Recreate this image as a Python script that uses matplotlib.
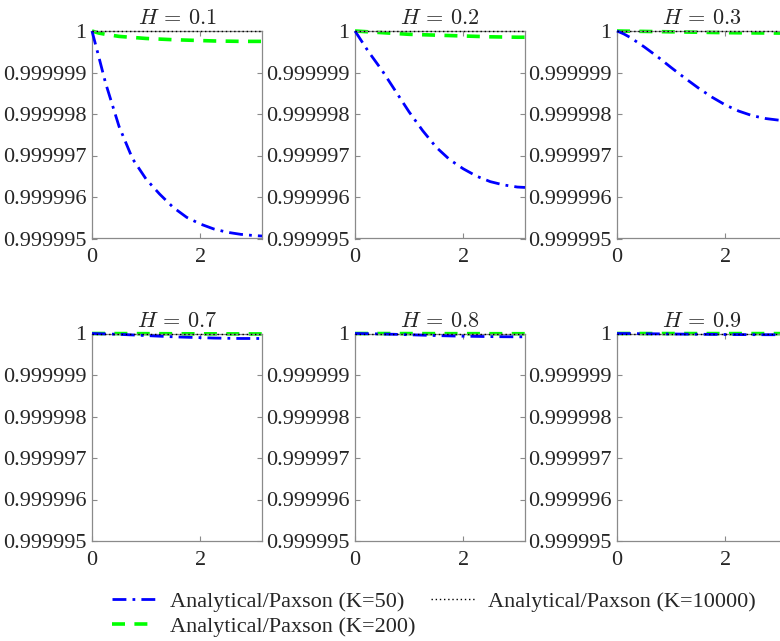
import matplotlib
matplotlib.use("Agg")
import matplotlib.pyplot as plt
import numpy as np

plt.rcParams['font.family'] = ['Liberation Serif', 'DejaVu Serif']
plt.rcParams['mathtext.fontset'] = 'cm'

# ---- data ----
x = [0, 0.125, 0.25, 0.5, 0.75, 1.0, 1.25, 1.5, 1.75, 2.0, 2.25, 2.5, 2.75, 3.0, 3.1416]
titles = ['$H\\,=\\,0.1$', '$H\\,=\\,0.2$', '$H\\,=\\,0.3$', '$H\\,=\\,0.7$', '$H\\,=\\,0.8$', '$H\\,=\\,0.9$']

# deviations from 1 in units of 1e-6
k50_dev = [
    [0, 0.62, 1.25, 2.30, 3.08, 3.57, 3.93, 4.25, 4.49, 4.65, 4.77, 4.85, 4.90, 4.93, 4.94],
    [0, 0.25, 0.50, 0.95, 1.45, 1.95, 2.40, 2.80, 3.10, 3.32, 3.50, 3.63, 3.71, 3.76, 3.77],
    [0, 0.07, 0.16, 0.38, 0.62, 0.88, 1.13, 1.37, 1.59, 1.78, 1.93, 2.04, 2.11, 2.15, 2.16],
    [0, 0.005, 0.01, 0.02, 0.035, 0.05, 0.065, 0.08, 0.09, 0.10, 0.11, 0.115, 0.12, 0.12, 0.12],
    [0, 0.002, 0.005, 0.012, 0.02, 0.03, 0.04, 0.05, 0.058, 0.065, 0.07, 0.075, 0.078, 0.08, 0.08],
    [0, 0.001, 0.002, 0.005, 0.008, 0.012, 0.015, 0.018, 0.021, 0.024, 0.026, 0.028, 0.029, 0.03, 0.03],
]
k200_dev = [
    [0, 0.05, 0.08, 0.13, 0.155, 0.18, 0.195, 0.21, 0.22, 0.23, 0.24, 0.245, 0.25, 0.25, 0.25],
    [0, 0.01, 0.02, 0.04, 0.06, 0.08, 0.09, 0.10, 0.11, 0.12, 0.13, 0.14, 0.145, 0.15, 0.15],
    [0, 0.003, 0.005, 0.01, 0.015, 0.02, 0.025, 0.03, 0.035, 0.04, 0.043, 0.046, 0.048, 0.05, 0.05],
    [0, 0, 0.001, 0.002, 0.003, 0.004, 0.005, 0.006, 0.007, 0.008, 0.008, 0.009, 0.009, 0.01, 0.01],
    [0, 0, 0.001, 0.001, 0.002, 0.002, 0.003, 0.003, 0.004, 0.004, 0.004, 0.005, 0.005, 0.005, 0.005],
    [0, 0, 0, 0.001, 0.001, 0.001, 0.001, 0.002, 0.002, 0.002, 0.002, 0.002, 0.002, 0.002, 0.002],
]
k10000_dev = [[0] * 15 for _ in range(6)]

yticks = [0.999995, 0.999996, 0.999997, 0.999998, 0.999999, 1.0]
ytick_labels = ['0.999995', '0.999996', '0.999997', '0.999998', '0.999999', '1']
xticks = [0, 2]
xtick_labels = ['0', '2']
labels = ['Analytical/Paxson (K=50)', 'Analytical/Paxson (K=200)', 'Analytical/Paxson (K=10000)']

# ---- figure ----
W, H = 780, 641
fig = plt.figure(figsize=(W / 100, H / 100), dpi=100)

col_left = [92, 355, 617]
row_bottom = [238.5, 541]
aw, ah = 170, 207.5

spine_c = '#8a8a8a'
text_c = '#262626'

handles = []
for i in range(6):
    r, c = divmod(i, 3)
    ax = fig.add_axes([col_left[c] / W, 1 - row_bottom[r] / H, aw / W, ah / H])
    y50 = [1 - d * 1e-6 for d in k50_dev[i]]
    y200 = [1 - d * 1e-6 for d in k200_dev[i]]
    y1e4 = [1 - d * 1e-6 for d in k10000_dev[i]]
    l1, = ax.plot(x, y50, color='#0000ff', lw=2.0, dashes=(5, 2.2, 1, 2.2), clip_on=False, zorder=3)
    l2, = ax.plot(x, y200, color='#00ff00', lw=2.6, dashes=(3.6, 2.6), clip_on=False, zorder=2)
    l3, = ax.plot(x, y1e4, color='black', lw=1.0, dashes=(1, 2), clip_on=False, zorder=4)
    if i == 0:
        handles = [l1, l2, l3]
    ax.set_xlim(0, np.pi)
    ax.set_ylim(0.999995, 1.0)
    ax.set_yticks(yticks)
    ax.set_yticklabels(ytick_labels)
    ax.set_xticks(xticks)
    ax.set_xticklabels(xtick_labels)
    ax.tick_params(direction='in', length=3.5, width=0.8, colors=spine_c,
                   labelcolor=text_c, labelsize=16, top=True, right=True)
    ax.tick_params(axis='y', pad=4)
    ax.tick_params(axis='x', pad=7)
    for s in ax.spines.values():
        s.set_color(spine_c)
        s.set_linewidth(0.9)
    ax.set_title(titles[i], fontsize=16, color=text_c, pad=5)

leg = fig.legend(handles, labels, ncol=2, loc='center', bbox_to_anchor=(434 / W, 1 - 614 / H),
                 frameon=False, fontsize=16, handlelength=2.0, handletextpad=0.6,
                 columnspacing=0.7, labelspacing=0.2, labelcolor=text_c)

fig.savefig('out.png', dpi=100)
